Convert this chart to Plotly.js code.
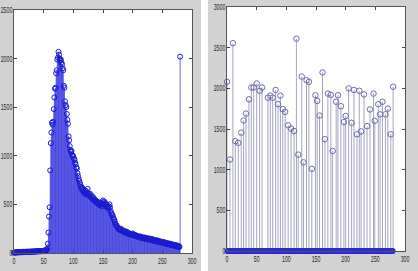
<!DOCTYPE html>
<html>
<head>
<meta charset="utf-8">
<script src="https://cdn.plot.ly/plotly-3.0.1.min.js"></script>
<style>html,body{margin:0;padding:0;background:#fff;}#chart{width:418px;height:271px;}</style>
</head>
<body>
<div id="chart"></div>
<script>
// ---- Left panel: value for each bin 0..280 ----
const leftVals = [
  3,5,4,6,8,5,7,9,6,8,
  10,7,9,11,8,10,12,9,11,13,
  10,12,14,11,13,12,15,13,11,14,
  16,12,15,13,17,14,16,18,15,17,
  19,16,18,20,17,19,21,22,18,20,
  23,25,21,24,28,32,45,95,210,375,
  470,850,1130,1240,1340,1320,1350,1480,1600,1690,
  1700,1850,1880,1990,2010,2070,2040,2000,1980,1990,
  1960,1940,1900,1880,1720,1700,1560,1520,1500,1430,
  1370,1330,1200,1160,1100,1060,1040,1050,1010,1000,
  990,970,960,930,910,880,870,820,790,760,
  740,720,700,680,660,670,640,650,620,630,
  610,640,600,620,660,610,600,590,610,580,
  570,590,560,550,570,540,550,530,540,520,
  530,510,520,500,510,490,520,500,480,510,
  540,520,530,500,510,480,500,470,480,460,
  480,500,470,430,410,400,390,370,350,340,
  320,300,290,280,270,260,250,245,240,235,
  250,240,230,225,220,230,215,220,210,205,
  220,210,200,205,195,200,190,195,185,190,
  200,185,190,180,185,175,180,170,175,165,
  170,165,160,170,155,165,150,160,155,150,
  160,145,150,155,140,150,145,140,150,135,
  140,135,145,130,140,125,135,130,120,130,
  125,130,120,115,125,110,120,115,110,105,
  115,110,105,100,110,95,105,100,95,90,
  100,95,90,85,95,80,90,85,80,75,
  85,80,75,70,80,65,75,70,60,65,
  2020
];

// ---- Right panel: non-zero bins (all other bins 0..280 are zero) ----
const rightX = [0,5,10,14,19,24,28,32,37,41,45,50,55,59,69,73,77,82,86,90,94,98,103,108,113,117,120,126,129,134,138,143,149,152,156,161,165,170,175,178,184,187,192,197,200,205,210,214,219,223,226,231,236,241,247,249,255,258,262,267,271,276,280];
const rightY = [2080,1125,2555,1350,1330,1455,1605,1690,1865,2010,2010,2060,1970,2010,1885,1910,1885,1980,1805,1910,1745,1710,1545,1505,1475,2610,1185,2145,1090,2100,2080,1010,1915,1845,1665,2195,1375,1935,1920,1230,1835,1915,1780,1585,1660,2000,1575,1980,1435,1970,1470,1925,1535,1740,1935,1600,1805,1680,1835,1680,1750,1435,2020];
const nBins = 281;

const xTicks = [0,50,100,150,200,250,300];
const leftYTicks = [0,500,1000,1500,2000,2500];
const rightYTicks = [0,500,1000,1500,2000,2500,3000];

// full right series
const rightVals = new Array(nBins).fill(0);
rightX.forEach((x,i)=>{ rightVals[x] = rightY[i]; });

function stems(vals){
  const xs=[], ys=[];
  vals.forEach((v,i)=>{ if(v!==0){ xs.push(i,i,null); ys.push(0,v,null);} });
  return {xs, ys};
}
const idx = leftVals.map((v,i)=>i);
const ls = stems(leftVals);
const rs = stems(rightVals);
const rIdx = rightVals.map((v,i)=>i);
const zeroX = rIdx.filter(i=>rightVals[i]===0);
const zeroY = zeroX.map(i=>rightVals[i]);

const traces = [
  {x:ls.xs, y:ls.ys, xaxis:'x', yaxis:'y', mode:'lines', type:'scatter',
   line:{color:'rgba(45,45,220,0.9)', width:0.8}, hoverinfo:'skip'},
  {x:idx, y:leftVals, xaxis:'x', yaxis:'y', mode:'markers', type:'scatter', cliponaxis:false,
   marker:{symbol:'circle-open', size:5, color:'#1a1ad0', line:{width:1}}},
  {x:rs.xs, y:rs.ys, xaxis:'x2', yaxis:'y2', mode:'lines', type:'scatter',
   line:{color:'#a4a4c0', width:1}, hoverinfo:'skip'},
  {x:zeroX, y:zeroY, xaxis:'x2', yaxis:'y2', mode:'markers', type:'scatter', cliponaxis:false,
   marker:{symbol:'circle-open', size:5, color:'#2a2ad8', line:{width:1.2}}},
  {x:rightX, y:rightY, xaxis:'x2', yaxis:'y2', mode:'markers', type:'scatter', cliponaxis:false,
   marker:{symbol:'circle-open', size:5.5, color:'#6c6cac', line:{width:1}}}
];

const tf = {family:'"Liberation Sans", Arial, sans-serif', size:8.5, color:'#2a2a2a'};
const axBase = {ticks:'inside', ticklen:3, tickcolor:'#444', mirror:'ticks', showline:true,
  linecolor:'#555', linewidth:1, showgrid:false, zeroline:false, tickfont:tf, fixedrange:true};

const layout = {
  width:418, height:271, margin:{l:0,r:0,t:0,b:0},
  paper_bgcolor:'#d2d2d2', plot_bgcolor:'#ffffff', showlegend:false,
  xaxis:Object.assign({}, axBase, {domain:[14/418,192/418], range:[0,300], tickvals:xTicks, anchor:'y'}),
  yaxis:Object.assign({}, axBase, {domain:[18/271,261/271], range:[0,2500], tickvals:leftYTicks, anchor:'x', ticklabelstandoff:-1}),
  xaxis2:Object.assign({}, axBase, {domain:[227/418,405/418], range:[0,300], tickvals:xTicks, anchor:'y2'}),
  yaxis2:Object.assign({}, axBase, {domain:[20/271,264/271], range:[0,3000], tickvals:rightYTicks, anchor:'x2', ticklabelstandoff:-1}),
  shapes:[{type:'rect', xref:'paper', yref:'paper', x0:201/418, x1:208/418, y0:0, y1:1,
           fillcolor:'#ffffff', line:{width:0}, layer:'below'}]
};

function condense(){
  document.querySelectorAll('.xtick text, .ytick text, .x2tick text, .y2tick text').forEach(t=>{
    const n = (t.textContent||'').length;
    t.setAttribute('textLength', (n*2.9).toFixed(1));
    t.setAttribute('lengthAdjust', 'spacingAndGlyphs');
  });
}
Plotly.newPlot('chart', traces, layout, {staticPlot:true, displayModeBar:false}).then(condense);
</script>
</body>
</html>
